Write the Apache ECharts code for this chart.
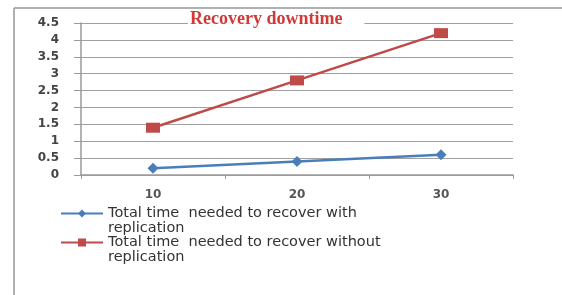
<!DOCTYPE html>
<html><head><meta charset="utf-8">
<script src="https://cdn.jsdelivr.net/npm/echarts@6/dist/echarts.min.js"></script>
<style>html,body{margin:0;padding:0;background:#fff}#c{width:562px;height:295px}</style>
</head><body><div id="c"></div>
<script>
const categories = ['10', '20', '30'];
const withReplication = [0.2, 0.4, 0.6];
const withoutReplication = [1.4, 2.8, 4.2];
const seriesNames = ['Total time  needed to recover with\nreplication', 'Total time  needed to recover without\nreplication'];
const titleText = 'Recovery downtime';

const legendText = {fontFamily: 'DejaVu Sans', fontSize: 14.5, color: '#333', lineHeight: 15};
const legendFmt = name => ' \n' + name;
const chart = echarts.init(document.getElementById('c'), null, {renderer: 'canvas'});
chart.setOption({
  animation: false,
  backgroundColor: '#fff',
  graphic: [
    {type: 'line', shape: {x1: 14, y1: 8, x2: 562, y2: 8}, style: {stroke: '#b0b0b0', lineWidth: 2}},
    {type: 'line', shape: {x1: 14, y1: 8, x2: 14, y2: 295}, style: {stroke: '#b0b0b0', lineWidth: 2}}
  ],
  title: {
    text: titleText, left: 188, top: 9,
    backgroundColor: '#fff', padding: [1, 22, 1, 2],
    textStyle: {fontFamily: 'Liberation Serif', fontWeight: 'bold', fontSize: 18, color: '#d23a3a'}
  },
  grid: {left: 81, right: 49, top: 23, bottom: 120, containLabel: false},
  xAxis: {
    type: 'category', data: categories, boundaryGap: true,
    axisLine: {lineStyle: {color: '#9a9a9a', width: 1.5}},
    axisTick: {show: true, length: 4, inside: false, lineStyle: {color: '#9a9a9a'}},
    axisLabel: {margin: 14, color: '#555', fontFamily: 'DejaVu Sans', fontWeight: 'bold', fontSize: 12}
  },
  yAxis: {
    type: 'value', min: 0, max: 4.5, interval: 0.5,
    axisLine: {show: true, lineStyle: {color: '#9a9a9a', width: 1.5}},
    axisTick: {show: true, length: 7, lineStyle: {color: '#9a9a9a'}},
    splitLine: {lineStyle: {color: '#a0a0a0', width: 1.2}},
    axisLabel: {margin: 22, color: '#444', fontFamily: 'DejaVu Sans', fontWeight: 'bold', fontSize: 12}
  },
  legend: [
    {
      orient: 'vertical', left: 60, top: 191, itemWidth: 42, itemHeight: 10, padding: 0,
      data: [seriesNames[0]], textStyle: legendText, formatter: legendFmt
    },
    {
      orient: 'vertical', left: 60, top: 220, itemWidth: 42, itemHeight: 10, padding: 0,
      data: [seriesNames[1]], textStyle: legendText, formatter: legendFmt
    }
  ],
  series: [
    {
      name: seriesNames[0], type: 'line', data: withReplication,
      symbol: 'diamond', symbolSize: 11,
      itemStyle: {color: '#4a7ebb'}, lineStyle: {color: '#4a7ebb', width: 2.5}
    },
    {
      name: seriesNames[1], type: 'line', data: withoutReplication,
      symbol: 'rect', symbolSize: [14, 10],
      itemStyle: {color: '#be4b48'}, lineStyle: {color: '#be4b48', width: 2.5}
    }
  ]
});
</script></body></html>
